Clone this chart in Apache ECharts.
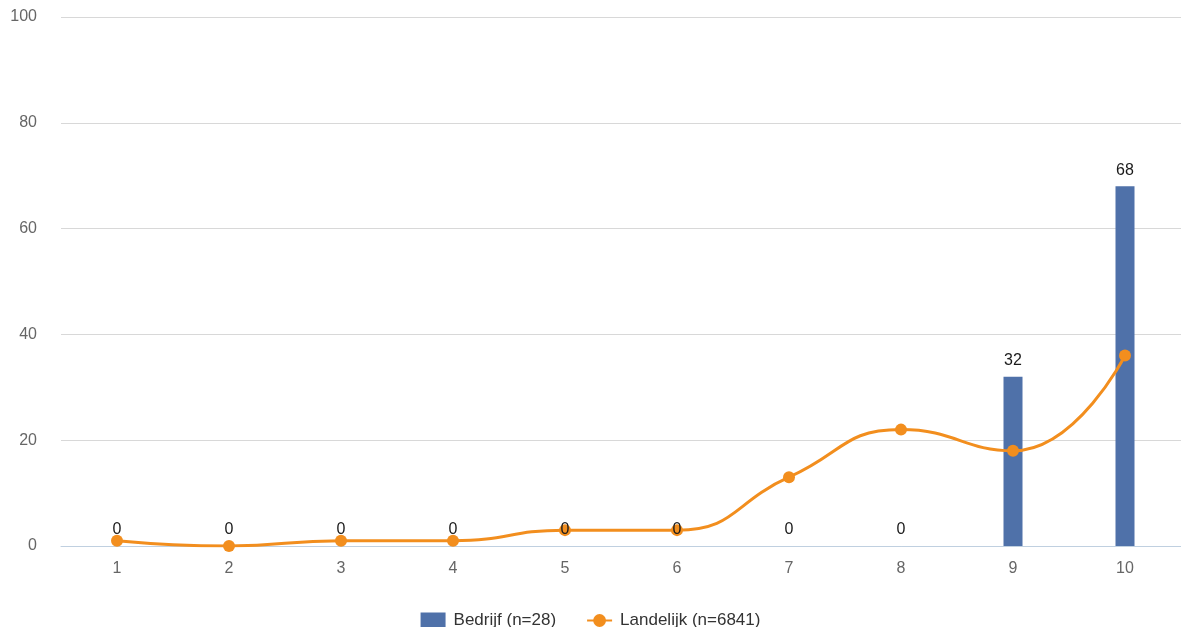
<!DOCTYPE html>
<html>
<head>
<meta charset="utf-8">
<script src="https://cdn.jsdelivr.net/npm/echarts@6/dist/echarts.min.js"></script>
<style>html,body{margin:0;padding:0;background:#fff}#c{width:1181px;height:627px}</style>
</head>
<body>
<div id="c"></div>
<script>
var categories = ['1','2','3','4','5','6','7','8','9','10'];
var bedrijf = [0,0,0,0,0,0,0,0,32,68];
var landelijk = [1,0,1,1,3,3,13,22,18,36];
var yTicks = [0,20,40,60,80,100];

var chart = echarts.init(document.getElementById('c'));
chart.setOption({
  animation: false,
  textStyle: {fontFamily: 'Liberation Sans, Arial, sans-serif'},
  grid: {left: 61, right: 0, top: 17, bottom: 81},
  legend: {
    top: 607,
    left: 'center',
    itemGap: 30,
    itemWidth: 25,
    itemHeight: 16,
    textStyle: {fontSize: 17, color: '#333', padding: [0, 0, 0, 3]},
    data: [
      {name: 'Bedrijf (n=28)', icon: 'rect'},
      {name: 'Landelijk (n=6841)'}
    ]
  },
  xAxis: {
    type: 'category',
    data: categories,
    boundaryGap: true,
    axisLine: {lineStyle: {color: '#c0d0e0'}},
    axisTick: {length: 14, lineStyle: {color: '#c0d0e0'}},
    axisLabel: {color: '#666', fontSize: 16, margin: 15}
  },
  yAxis: {
    type: 'value',
    min: 0, max: 100, interval: 20,
    axisLine: {show: false},
    axisTick: {show: false},
    axisLabel: {color: '#666', fontSize: 16, margin: 24},
    splitLine: {lineStyle: {color: '#d8d8d8'}}
  },
  series: [
    {
      name: 'Bedrijf (n=28)',
      type: 'bar',
      data: bedrijf,
      barWidth: 19,
      z: 2,
      itemStyle: {color: '#4f71a9'}
    },
    {
      name: 'Landelijk (n=6841)',
      type: 'line',
      data: landelijk,
      smooth: 0.5,
      symbol: 'circle',
      symbolSize: 12,
      lineStyle: {color: '#f28e1e', width: 3},
      itemStyle: {color: '#f28e1e'},
      z: 3
    },
    {
      name: 'labels',
      type: 'bar',
      data: bedrijf,
      barWidth: 19,
      barGap: '-100%',
      silent: true,
      z: 5,
      itemStyle: {color: 'rgba(0,0,0,0)'},
      label: {show: true, position: 'top', color: '#1a1a1a', fontSize: 16, distance: 8}
    }
  ]
});
</script>
</body>
</html>
